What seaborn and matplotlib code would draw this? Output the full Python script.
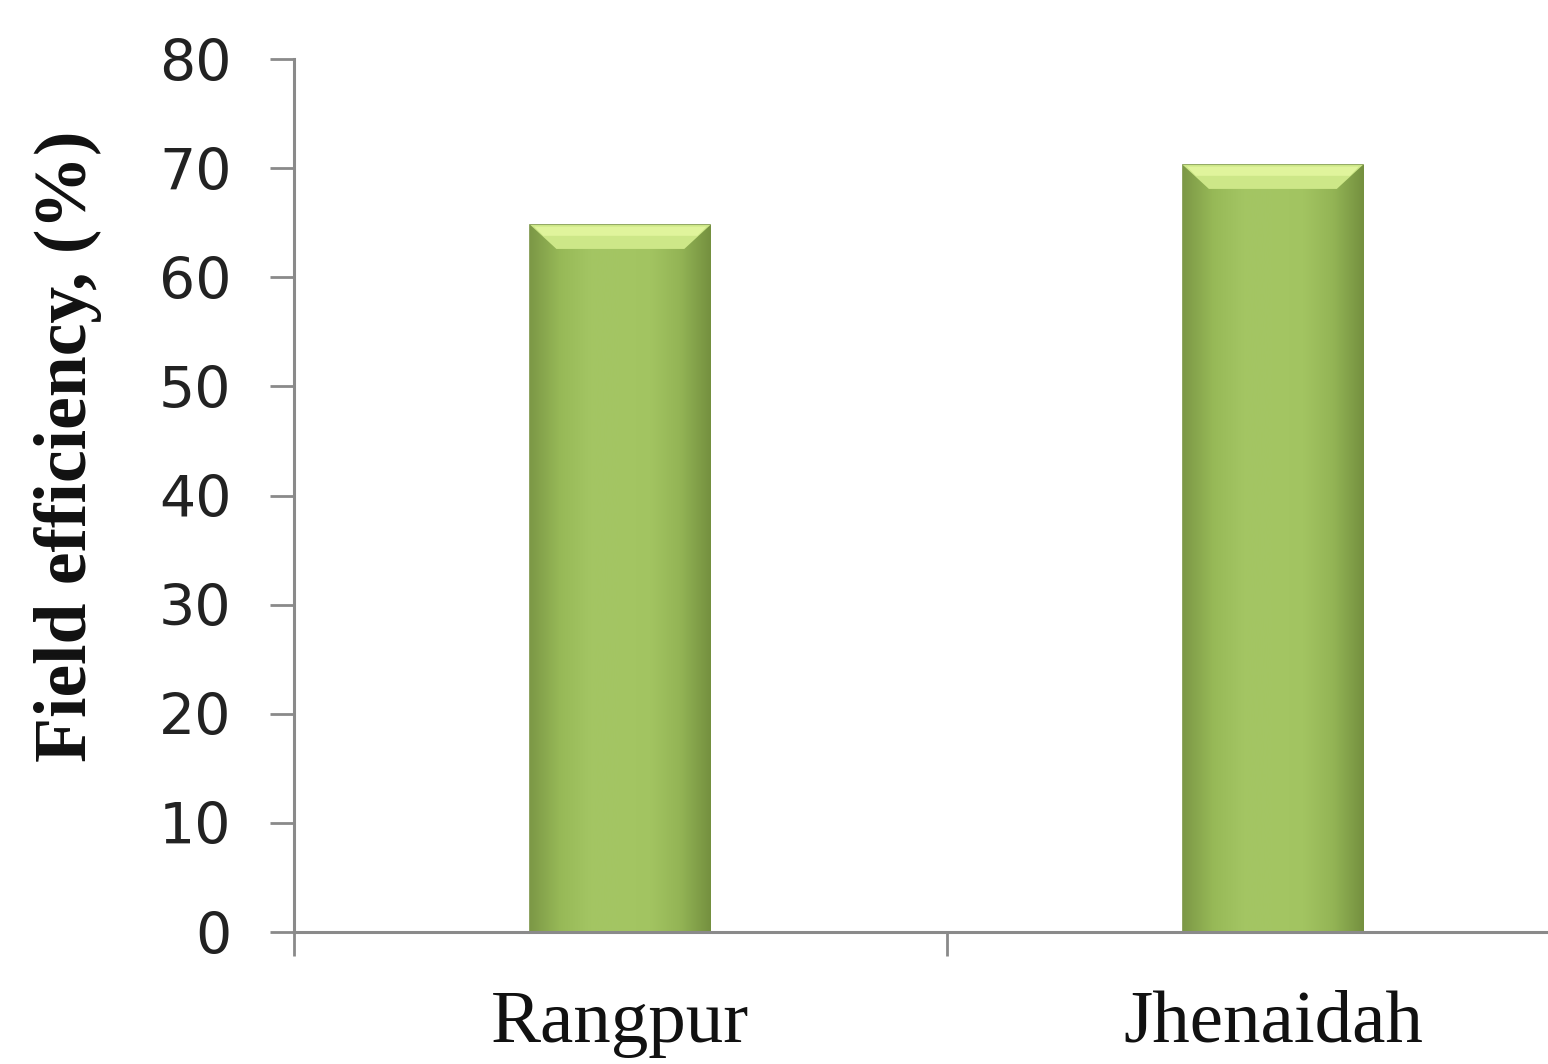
import numpy as np
import pandas as pd
import matplotlib
matplotlib.use("Agg")
import matplotlib.pyplot as plt
from matplotlib.patches import Polygon
from matplotlib.colors import LinearSegmentedColormap
import seaborn as sns

# Field efficiency by district
districts = ["Rangpur", "Jhenaidah"]
efficiency = [64.8, 70.3]

df = pd.DataFrame({"District": districts, "Efficiency": efficiency})

sns.set_theme(style="white")
plt.rcParams["font.family"] = ["DejaVu Sans"]

fig = plt.figure(figsize=(15.48, 10.64), dpi=100)
ax = fig.add_axes([0.190, 0.124, 0.843, 0.8205])

sns.barplot(data=df, x="District", y="Efficiency", color="#a0c25f",
            width=0.276, saturation=1, ax=ax, zorder=2)

# shaded, bevelled look for each bar
side_cmap = LinearSegmentedColormap.from_list(
    "side", ["#7c9846", "#97b957", "#a3c563", "#a4c663", "#a2c461", "#93b455", "#74903f"])
grad = np.linspace(0, 1, 256).reshape(1, -1)
for patch in ax.patches:
    x0, w, h = patch.get_x(), patch.get_width(), patch.get_height()
    im = ax.imshow(grad, extent=[x0, x0 + w, 0, h], aspect="auto",
                   cmap=side_cmap, zorder=2.1, interpolation="bicubic")
    im.set_clip_path(patch)
    dx, dy = 0.04, 2.2
    top = Polygon([(x0, h), (x0 + w, h), (x0 + w - dx, h - dy), (x0 + dx, h - dy)],
                  closed=True, facecolor="#cde788", edgecolor="none", zorder=2.2)
    ax.add_patch(top)
    rim = Polygon([(x0 + 0.006, h - 0.15), (x0 + w - 0.006, h - 0.15),
                   (x0 + w - 0.02, h - 1.0), (x0 + 0.02, h - 1.0)],
                  closed=True, facecolor="#e0f49c", edgecolor="none", zorder=2.3)
    ax.add_patch(rim)
    patch.set_edgecolor("#7a9446")
    patch.set_linewidth(1.2)

ax.set_xlim(-0.5, 1.5)
ax.set_ylim(0, 80)
ax.set_yticks(np.arange(0, 81, 10))

# category boundaries as major ticks, names centred between them
ax.set_xticks([-0.5, 0.5, 1.5])
ax.set_xticklabels([])
ax.set_xticks([0, 1], minor=True)
ax.set_xticklabels(districts, minor=True, family="Liberation Serif",
                   fontsize=54, color="#111111")
ax.tick_params(axis="x", which="minor", length=0, pad=42)
ax.tick_params(axis="x", which="major", direction="out", length=17,
               width=2, color="#8a8a8a", bottom=True)
ax.tick_params(axis="y", direction="out", length=17, width=2,
               color="#8a8a8a", left=True, labelsize=41, pad=28,
               labelcolor="#222222")

ax.set_xlabel("")
ax.set_ylabel("Field efficiency, (%)", family="Liberation Serif",
              fontweight="bold", fontsize=53, color="#111111", va="center")
ax.yaxis.set_label_coords(-0.173, 0.556)

for side in ["top", "right"]:
    ax.spines[side].set_visible(False)
for side in ["left", "bottom"]:
    ax.spines[side].set_color("#8a8a8a")
    ax.spines[side].set_linewidth(2.2)
ax.spines["left"].set_zorder(3)
ax.spines["bottom"].set_zorder(3)

fig.savefig("out.png", dpi=100, facecolor="white")
